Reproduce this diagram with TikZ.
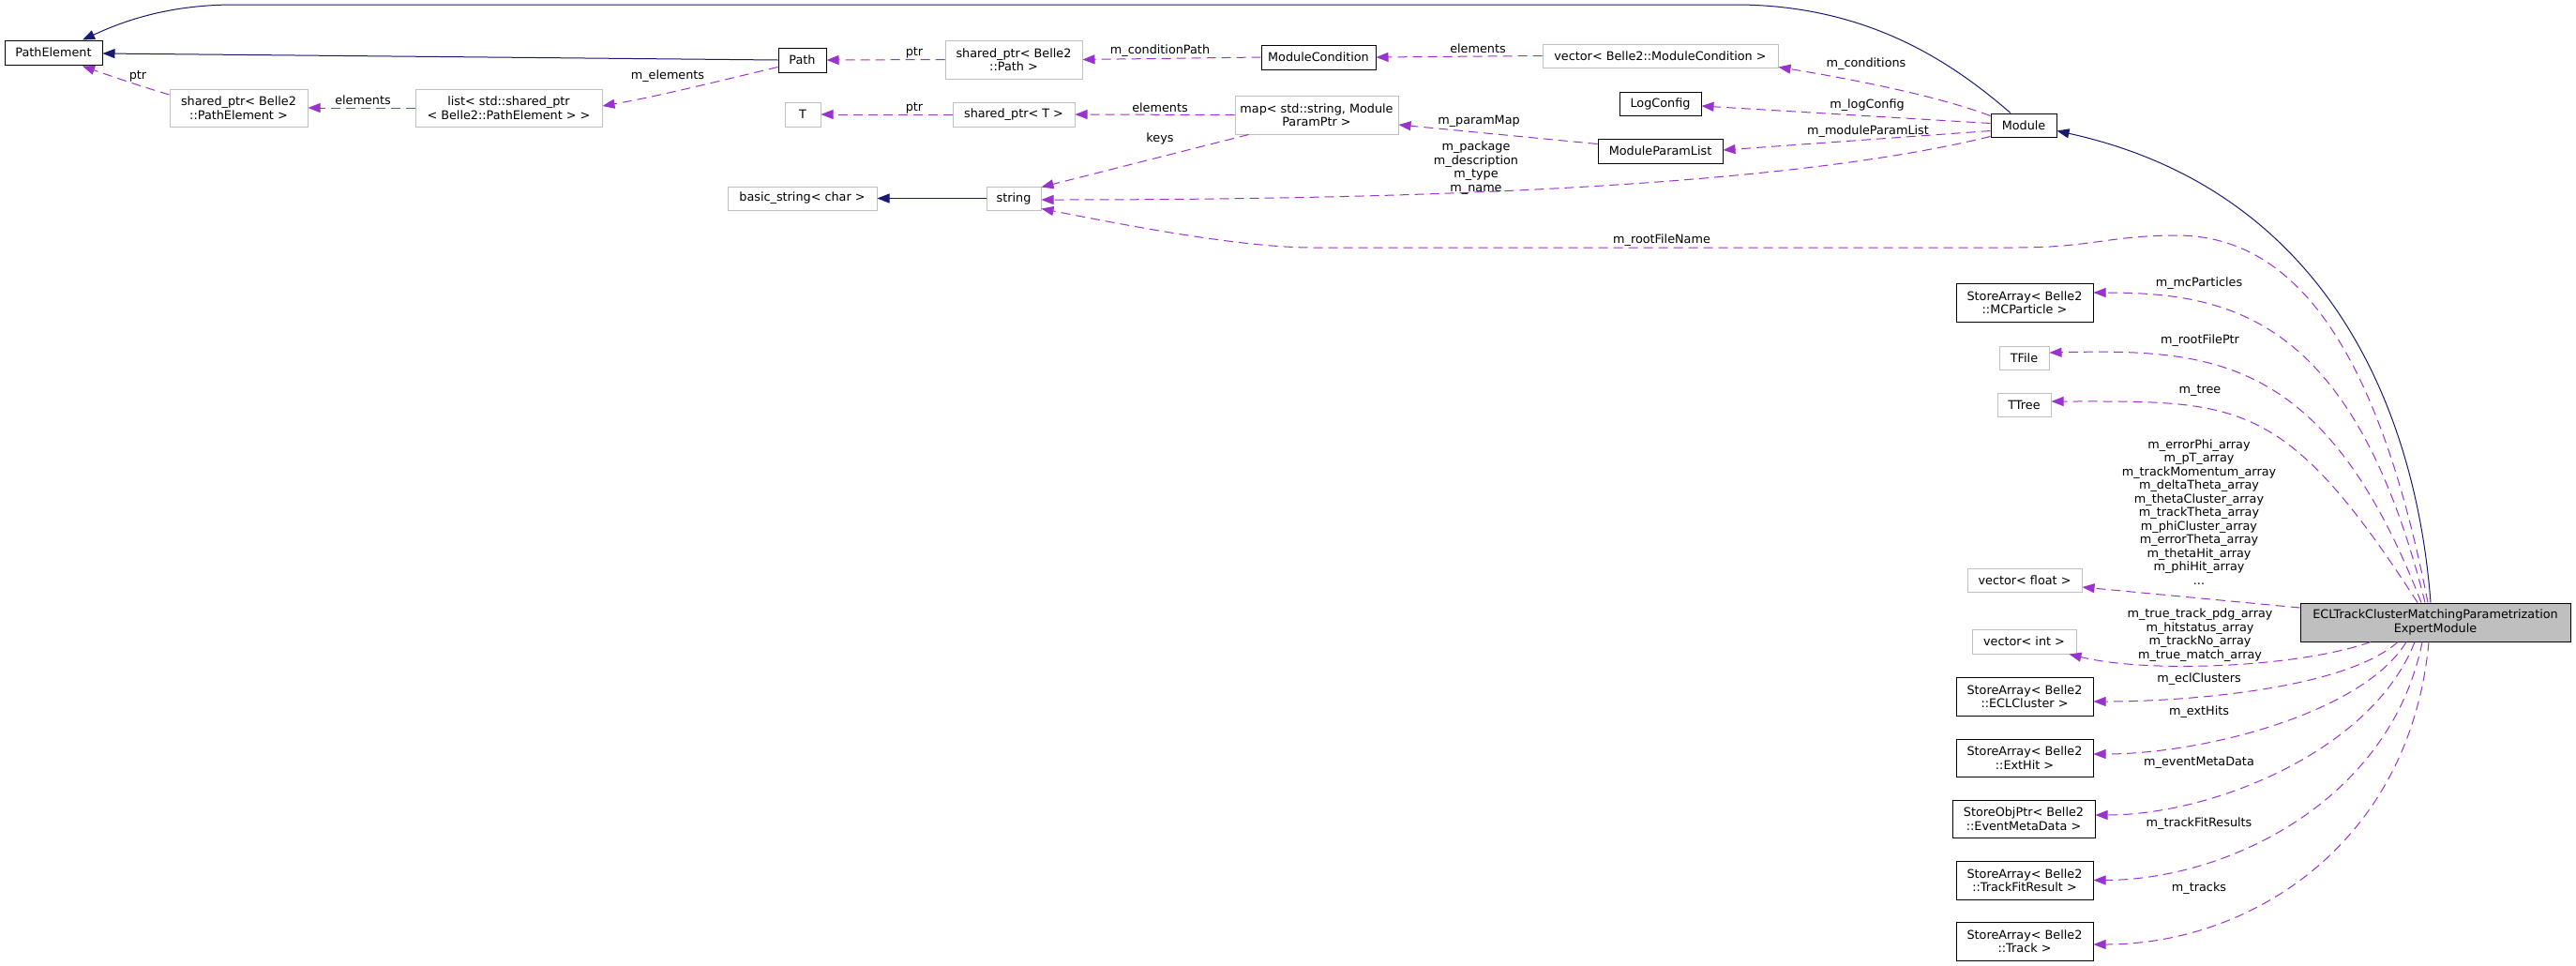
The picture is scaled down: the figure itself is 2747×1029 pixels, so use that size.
\documentclass[tikz,border=0pt]{standalone}
\usepackage{fontspec}
\setmainfont{DejaVu Sans}
\usetikzlibrary{arrows.meta,calc}
\definecolor{inh}{HTML}{191970}
\definecolor{use}{HTML}{9A32CD}
\definecolor{gry}{HTML}{BFBFBF}
\newcommand\dgfont{\fontsize{12.8pt}{14.5pt}\selectfont}
\tikzset{
 box/.style={draw=gry, line width=1pt, fill=white, inner sep=0pt, align=center, font=\dgfont},
 blk/.style={box, draw=black},
 inhe/.style={draw=inh, line width=1pt, -{Triangle[length=13pt,width=10pt]}},
 usee/.style={draw=use, line width=1pt, dash pattern=on 10pt off 6pt, -{Triangle[length=13pt,width=10pt]}},
 lbl/.style={inner sep=0pt, align=center, font=\dgfont},
}
\begin{document}
\begin{tikzpicture}[x=1pt,y=-1pt]
\useasboundingbox[fill=white] (0,0) rectangle (2747,1029);
% nodes
\node[blk, minimum width=104pt, minimum height=26pt] (PathElement) at (57,56) {PathElement};
\node[box, minimum width=147pt, minimum height=40pt] (shptrPE) at (254.5,115) {shared\_ptr< Belle2\\::PathElement >};
\node[box, minimum width=199pt, minimum height=40pt] (list) at (542.5,115) {list< std::shared\_ptr\\< Belle2::PathElement > >};
\node[blk, minimum width=51pt, minimum height=26pt] (Path) at (855.5,64) {Path};
\node[box, minimum width=146pt, minimum height=41pt] (shptrPath) at (1081,63.5) {shared\_ptr< Belle2\\::Path >};
\node[blk, minimum width=122pt, minimum height=26pt] (ModCond) at (1406,61) {ModuleCondition};
\node[box, minimum width=251pt, minimum height=25pt] (vecMC) at (1770.5,59.5) {vector< Belle2::ModuleCondition >};
\node[box, minimum width=38pt, minimum height=26pt] (T) at (856,122) {T};
\node[box, minimum width=130pt, minimum height=26pt] (shptrT) at (1081,122) {shared\_ptr< T >};
\node[box, minimum width=174pt, minimum height=41pt] (map) at (1404,122.5) {map< std::string, Module\\ParamPtr >};
\node[blk, minimum width=87pt, minimum height=25pt] (LogConfig) at (1770.5,110.5) {LogConfig};
\node[blk, minimum width=133pt, minimum height=26pt] (MPL) at (1770.5,161) {ModuleParamList};
\node[box, minimum width=159pt, minimum height=25pt] (basicstr) at (855.5,211.5) {basic\_string< char >};
\node[box, minimum width=58pt, minimum height=25pt] (string) at (1081,211.5) {string};
\node[blk, minimum width=70pt, minimum height=25pt] (Module) at (2158,133.5) {Module};
\node[blk, minimum width=146pt, minimum height=41pt] (MCP) at (2159,322.5) {StoreArray< Belle2\\::MCParticle >};
\node[box, minimum width=53pt, minimum height=25pt] (TFile) at (2158.5,381.5) {TFile};
\node[box, minimum width=57pt, minimum height=25pt] (TTree) at (2158.5,431.5) {TTree};
\node[box, minimum width=122pt, minimum height=25pt] (vecF) at (2159,618.5) {vector< float >};
\node[box, minimum width=111pt, minimum height=26pt] (vecI) at (2158.5,684) {vector< int >};
\node[blk, minimum width=146pt, minimum height=41pt] (ECLC) at (2159,742.5) {StoreArray< Belle2\\::ECLCluster >};
\node[blk, minimum width=146pt, minimum height=40pt] (ExtHit) at (2159,808) {StoreArray< Belle2\\::ExtHit >};
\node[blk, minimum width=152pt, minimum height=40pt] (EMD) at (2158,873) {StoreObjPtr< Belle2\\::EventMetaData >};
\node[blk, minimum width=146pt, minimum height=41pt] (TFR) at (2159,938.5) {StoreArray< Belle2\\::TrackFitResult >};
\node[blk, minimum width=146pt, minimum height=41pt] (Track) at (2159,1003.5) {StoreArray< Belle2\\::Track >};
\node[blk, fill=gry, minimum width=288pt, minimum height=41pt] (ECL) at (2597,663.5) {ECLTrackClusterMatchingParametrization\\ExpertModule};
% inheritance edges
\draw[inhe] (Path.west) -- ($(PathElement.east)+(0,1)$);
\draw[inhe] ($(Module.north)+(-14,0)$) .. controls (2080,65) and (1990,5) .. (1850,5) -- (250,5) .. controls (170,5) and (120,28) .. ($(PathElement.north)+(31,0)$);
\draw[inhe] (string.west) -- (basicstr.east);
\draw[inhe] ($(ECL.north)+(-5,0)$) .. controls (2575,420) and (2470,200) .. ($(Module.east)+(0,6)$);
% usage edges
\draw[usee] ($(shptrPE.west)+(0,-14)$) .. controls (150,92) and (115,80) .. ($(PathElement.south)+(31,1)$);
\draw[usee] (list.west) -- (shptrPE.east);
\draw[usee] ($(Path.south west)+(0,-6)$) .. controls (760,88) and (700,103) .. ($(list.east)+(0,-2)$);
\draw[usee] (shptrPath.west) -- (Path.east);
\draw[usee] (ModCond.west) -- (shptrPath.east);
\draw[usee] (vecMC.west) -- (ModCond.east);
\draw[usee] ($(Module.west)+(0,-10)$) .. controls (2060,100) and (1960,82) .. ($(vecMC.south east)+(0,-1)$);
\draw[usee] ($(Module.west)+(0,-2)$) -- ($(LogConfig.east)+(0,2.5)$);
\draw[usee] ($(Module.west)+(0,6)$) -- ($(MPL.east)+(0,-1)$);
\draw[usee] ($(Module.south west)+(0,-1)$) .. controls (1900,200) and (1500,213) .. ($(string.east)+(0,1.5)$);
\draw[usee] ($(MPL.north west)+(0,6)$) -- ($(map.east)+(0,10.5)$);
\draw[usee] (map.west) -- (shptrT.east);
\draw[usee] (shptrT.west) -- (T.east);
\draw[usee] ($(map.south west)+(15,0)$) -- ($(string.north east)+(0,1)$);
\draw[usee] ($(ECL.north)+(-8,0)$) .. controls (2530,340) and (2430,251) .. (2321,251) .. controls (2250,251) and (2230,264) .. (2150,264) -- (1400,264) .. controls (1320,264) and (1190,238) .. ($(string.south east)+(0,-2)$);
\draw[usee] ($(ECL.north)+(-11,0)$) .. controls (2510,340) and (2380,312) .. ($(MCP.east)+(0,-10.5)$);
\draw[usee] ($(ECL.north)+(-15,0)$) .. controls (2480,380) and (2360,372) .. ($(TFile.east)+(0,-5.5)$);
\draw[usee] ($(ECL.north)+(-19,0)$) .. controls (2436,422) and (2387,428) .. ($(TTree.east)+(0,-3.5)$);
\draw[usee] ($(ECL.west)+(0,-15.5)$) -- ($(vecF.east)+(0,7.5)$);
\draw[usee] ($(ECL.south)+(-69,0)$) .. controls (2450,712) and (2290,718) .. ($(vecI.south east)+(-8,0)$);
\draw[usee] ($(ECL.south)+(-40,0)$) .. controls (2500,735) and (2330,748) .. ($(ECLC.east)+(0,5.5)$);
\draw[usee] ($(ECL.south)+(-31,0)$) .. controls (2520,760) and (2350,804) .. ($(ExtHit.east)+(0,-4)$);
\draw[usee] ($(ECL.south)+(-22,0)$) .. controls (2530,800) and (2360,869) .. ($(EMD.east)+(0,-4)$);
\draw[usee] ($(ECL.south)+(-14,0)$) .. controls (2550,850) and (2380,938) .. (TFR.east);
\draw[usee] ($(ECL.south)+(-7,0)$) .. controls (2570,900) and (2400,1007) .. ($(Track.east)+(0,3.5)$);
% labels
\node[lbl] (l1) at (147,81) {ptr};
\node[lbl] (l2) at (387,107) {elements};
\node[lbl] (l3) at (712,81) {m\_elements};
\node[lbl] (l4) at (975,56) {ptr};
\node[lbl] (l5) at (1237,54) {m\_conditionPath};
\node[lbl] (l6) at (1576,52) {elements};
\node[lbl] (l7) at (975,115) {ptr};
\node[lbl] (l8) at (1237,115) {elements};
\node[lbl] (l9) at (1237,148) {keys};
\node[lbl] (l10) at (1990,68) {m\_conditions};
\node[lbl] (l11) at (1991,112) {m\_logConfig};
\node[lbl] (l12) at (1577,129) {m\_paramMap};
\node[lbl] (l13) at (1992,140) {m\_moduleParamList};
\node[lbl] (l14) at (1574,179) {m\_package\\m\_description\\m\_type\\m\_name};
\node[lbl] (l15) at (1772,256) {m\_rootFileName};
\node[lbl] (l16) at (2345,302) {m\_mcParticles};
\node[lbl] (l17) at (2346,363) {m\_rootFilePtr};
\node[lbl] (l18) at (2346,417) {m\_tree};
\node[lbl] (l19) at (2345,546) {m\_errorPhi\_array\\m\_pT\_array\\m\_trackMomentum\_array\\m\_deltaTheta\_array\\m\_thetaCluster\_array\\m\_trackTheta\_array\\m\_phiCluster\_array\\m\_errorTheta\_array\\m\_thetaHit\_array\\m\_phiHit\_array\\...};
\node[lbl] (l20) at (2346,677) {m\_true\_track\_pdg\_array\\m\_hitstatus\_array\\m\_trackNo\_array\\m\_true\_match\_array};
\node[lbl] (l21) at (2345,724) {m\_eclClusters};
\node[lbl] (l22) at (2345,759) {m\_extHits};
\node[lbl] (l23) at (2345,813) {m\_eventMetaData};
\node[lbl] (l24) at (2345,878) {m\_trackFitResults};
\node[lbl] (l25) at (2345,947) {m\_tracks};
\end{tikzpicture}
\end{document}
